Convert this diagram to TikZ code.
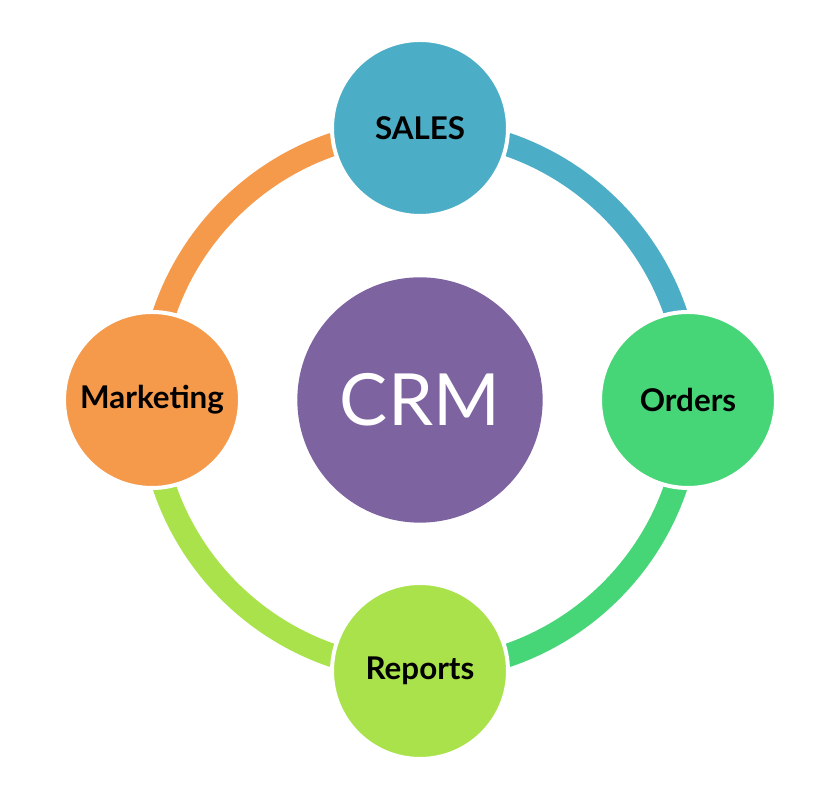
\documentclass[tikz,border=0pt]{standalone}
\usepackage{fontspec}
\setmainfont{Lato}
\definecolor{salesblue}{HTML}{4BADC6}
\definecolor{ordergreen}{HTML}{47D677}
\definecolor{reportlime}{HTML}{A9E24B}
\definecolor{mktorange}{HTML}{F5994A}
\definecolor{crmpurple}{HTML}{7E63A1}
\tikzset{
  ring/.style={line width=17.5pt},
  bubble/.style={circle, draw=white, line width=3pt, minimum size=132pt, inner sep=0pt,
    font=\fontsize{23.5}{25}\selectfont\bfseries}
}
\begin{document}
\begin{tikzpicture}[x=0.75pt,y=0.75pt]
\useasboundingbox (0,0) rectangle (840,798);
\coordinate (c) at (420,398);
%ring
\draw[ring,salesblue] (c) ++(90:270) arc (90:0:270);
\draw[ring,ordergreen] (c) ++(0:270) arc (0:-90:270);
\draw[ring,reportlime] (c) ++(-90:270) arc (-90:-180:270);
\draw[ring,mktorange] (c) ++(180:270) arc (180:90:270);
%bubbles
\node[bubble,fill=salesblue] (sales) at (420,670) {SALES};
\node[bubble,fill=ordergreen] (orders) at (688,398) {Orders};
\node[bubble,fill=reportlime] (reports) at (420,127) {Reports};
\node[bubble,fill=mktorange] (marketing) at (152,398) {Marketing};
\node[circle,fill=crmpurple,minimum size=184pt,inner sep=0pt,text=white,
  font=\fontsize{54}{58}\selectfont] (crm) at (c) {CRM};
\end{tikzpicture}
\end{document}
